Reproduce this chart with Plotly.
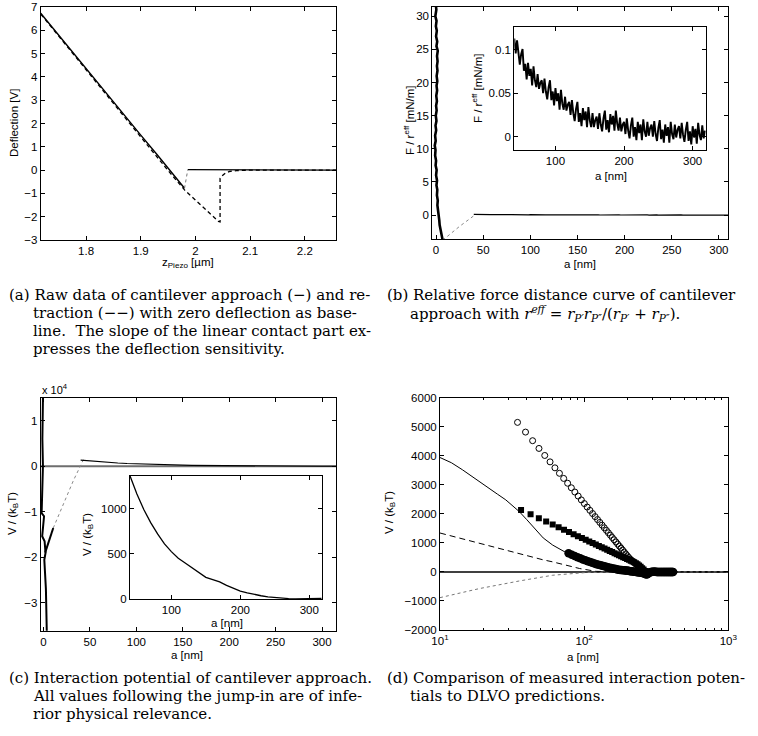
import plotly.graph_objects as go

W, H = 758, 736

# ---------------- (a) raw deflection data ----------------
appr_z = [1.717, 1.75, 1.80, 1.85, 1.90, 1.93, 1.95, 1.965, 1.98]
appr_d = [6.73, 5.78, 4.35, 2.92, 1.50, 0.66, 0.10, -0.32, -0.78]
jump_z = [1.98, 1.983, 1.986]
jump_d = [-0.78, -0.30, 0.02]
flat_z = [1.986, 2.10, 2.257]
flat_d = [0.02, 0.01, 0.0]
retr_z = [1.717, 1.80, 1.90, 1.95, 1.98, 2.00, 2.015, 2.03, 2.042, 2.045, 2.045, 2.05, 2.055,
          2.062, 2.075, 2.10, 2.257]
retr_d = [6.70, 4.30, 1.40, -0.02, -0.85, -1.28, -1.62, -1.95, -2.20, -2.22, -0.35, -0.22,
          -0.12, -0.06, -0.02, 0.0, 0.0]

# ---------------- (b) relative force ----------------
fb_steep_F = [32, 31, 30, 29.3, 28.5, 27.8, 27, 26.2, 25.5, 24.8, 24, 23.2, 22.5, 21.8, 21,
              20.2, 19.5, 18.8, 18, 17.2, 16.5, 15.8, 15, 14.2, 13.5, 12.8, 12, 11.2, 10.5,
              9.8, 9, 8.2, 7.5, 6.8, 6, 5.2, 4.5, 3.8, 3, 2.2, 1.5, 0.8, 0, -0.8, -1.5, -2.2,
              -3, -3.8]
fb_steep_a = [-0.5, 0.3, -0.8, 0.5, -0.2, 0.8, 0.0, 1.2, 0.4, 1.8, 1.0, 1.6, 0.9, 1.5, 0.6,
              1.3, 0.5, 1.1, 0.2, 0.9, 0.0, 0.6, -0.3, 0.4, -0.6, 0.1, -1.0, -0.4, -1.4, -0.6,
              -1.0, 0.0, -0.5, 0.6, 0.0, 1.0, 0.4, 1.3, 0.9, 1.8, 1.4, 2.2, 2.3, 3.4, 3.8, 5.0,
              5.6, 7.0]
fb_jump_a = [7.0, 25.0, 42.0]
fb_jump_F = [-3.8, -1.7, 0.1]
fb_a = [40, 42, 44, 46, 48, 50, 52, 54, 56, 58, 60, 62, 64, 66, 68, 70, 72, 74, 76, 78,
        80, 82, 84, 86, 88, 90, 92, 94, 96, 98, 100, 102, 104, 106, 108, 110, 112, 114, 116, 118,
        120, 122, 124, 126, 128, 130, 132, 134, 136, 138, 140, 142, 144, 146, 148, 150, 152, 154,
        156, 158, 160, 162, 164, 166, 168, 170, 172, 174, 176, 178, 180, 182, 184, 186, 188, 190,
        192, 194, 196, 198, 200, 202, 204, 206, 208, 210, 212, 214, 216, 218, 220, 222, 224, 226,
        228, 230, 232, 234, 236, 238, 240, 242, 244, 246, 248, 250, 252, 254, 256, 258, 260, 262,
        264, 266, 268, 270, 272, 274, 276, 278, 280, 282, 284, 286, 288, 290, 292, 294, 296, 298,
        300, 302, 304, 306, 308, 310, 312, 314, 316, 318]
fb_F = [0.113, 0.096, 0.111, 0.094, 0.083, 0.095, 0.101, 0.076, 0.084, 0.066,
        0.085, 0.070, 0.078, 0.059, 0.081, 0.065, 0.057, 0.072, 0.055, 0.062,
        0.065, 0.050, 0.067, 0.052, 0.043, 0.057, 0.065, 0.042, 0.052, 0.036,
        0.056, 0.041, 0.050, 0.031, 0.054, 0.038, 0.031, 0.046, 0.030, 0.037,
        0.040, 0.025, 0.042, 0.027, 0.018, 0.032, 0.040, 0.017, 0.027, 0.012,
        0.033, 0.019, 0.029, 0.011, 0.034, 0.019, 0.011, 0.027, 0.011, 0.019,
        0.023, 0.009, 0.027, 0.014, 0.006, 0.021, 0.030, 0.008, 0.019, 0.005,
        0.026, 0.014, 0.024, 0.007, 0.030, 0.015, 0.007, 0.022, 0.006, 0.014,
        0.017, 0.003, 0.021, 0.007, -0.002, 0.013, 0.022, 0.000, 0.011, -0.004,
        0.017, 0.004, 0.014, -0.004, 0.020, 0.006, 0.000, 0.017, 0.001, 0.010,
        0.014, 0.000, 0.018, 0.003, -0.005, 0.010, 0.019, -0.003, 0.008, -0.007,
        0.014, 0.001, 0.011, -0.007, 0.017, 0.003, -0.003, 0.014, -0.001, 0.008,
        0.012, -0.002, 0.016, 0.002, -0.006, 0.008, 0.017, -0.005, 0.006, -0.009,
        0.012, -0.001, 0.009, -0.008, 0.016, 0.002, -0.004, 0.013, -0.002, 0.007]

# ---------------- (c) interaction potential ----------------
vc_spike_a = [-0.5, -1.2, -0.6, -1.8, -2.0, 0.6, -1.4, 1.2, 2.2, 0.9, 2.6, 3.6]
vc_spike_V = [16000, 6000, 0, -6000, -10300, -11000, -15400, -16500, -19100, -20600, -27000,
              -37000]
vc_branch_a = [1.8, 10.5]
vc_branch_V = [-19000, -13600]
vc_jump_a = [10.5, 21.5, 32.3, 43.0]
vc_jump_V = [-13600, -8200, -3100, 1450]
vc_base_a = [-3, 315]
vc_base_V = [0, 0]
vc_a = [40, 50, 60, 70, 80, 90, 100, 110, 120, 130, 140, 150, 160, 170, 180, 190, 200, 210,
        220, 230, 240, 250, 260, 270, 280, 290, 300, 310, 318]
vc_V = [1362, 1160, 990, 845, 720, 610, 524, 450, 398, 345, 290, 240, 215, 190, 150, 115, 88,
        68, 50, 36, 24, 15, 9, 5, 2, 1, 2, 4, 6]

# ---------------- (d) comparison with DLVO ----------------
dl_tot_a = [10, 12, 14.3, 17, 20.8, 25, 28.6, 35.5, 40, 46.4, 52, 60.5, 73.1, 92.9, 121, 158,
            218, 300, 1000]
dl_tot_V = [3940, 3760, 3519, 3250, 2941, 2680, 2481, 2076, 1800, 1443, 1170, 924, 692, 405,
            173, 59, 5, 0, 0]
dl_el_a = [10, 18.7, 35.5, 51.6, 60.5, 92.9, 121, 160, 300, 1000]
dl_el_V = [1340, 983, 637, 420, 346, 118, 20, 5, 0, 0]
dl_vdw_a = [10, 18.7, 35.5, 60.5, 103, 150, 300, 1000]
dl_vdw_V = [-886, -575, -311, -114, -21, -5, 0, 0]
zero_a = [10, 1000]
zero_V = [0, 0]
oc_a = [34.5, 39.2, 43.9, 48.6, 53.3, 58.0, 62.7, 67.4, 72.1, 76.8, 81.5, 86.2, 90.9, 95.6,
        100.3, 105.0, 109.7, 114.4, 119.1, 123.8, 128.5, 133.2, 137.9, 142.6, 147.3, 152.0,
        156.7, 161.4, 166.1, 170.8, 175.5, 180.2, 184.9, 189.6, 194.3, 199.0, 203.7, 208.4,
        213.1, 217.8, 222.5, 227.2, 231.9, 236.6, 241.3, 246.0, 250.7, 255.4, 260.1, 264.8,
        269.5, 274.2]
oc_V = [5150, 4816, 4519, 4253, 4011, 3790, 3585, 3396, 3220, 3054, 2898, 2751, 2612, 2480,
        2354, 2234, 2120, 2010, 1904, 1803, 1705, 1611, 1520, 1432, 1347, 1265, 1185, 1108,
        1032, 959, 888, 819, 752, 686, 622, 559, 498, 445, 400, 360, 320, 280, 245, 210, 175,
        135, 95, 55, 15, -20, -50, -60]
sq_a = [36.5, 42.5, 48.5, 54.5, 60.5, 66.5, 72.5, 78.5, 84.5, 90.5, 96.5, 102.5, 108.5, 114.5,
        120.5, 126.5, 132.5, 138.5, 144.5, 150.5, 156.5, 162.5, 168.5, 174.5, 180.5, 186.5,
        192.5, 198.5, 204.5, 210.5, 216.5, 222.5, 228.5, 234.5, 240.5, 246.5, 252.5, 258.5,
        264.5, 270.5, 276.5]
sq_V = [2135, 1983, 1851, 1735, 1631, 1537, 1451, 1371, 1298, 1230, 1166, 1106, 1049, 995, 944,
        896, 850, 806, 763, 723, 684, 646, 610, 576, 542, 509, 478, 447, 417, 388, 360, 333,
        300, 265, 225, 180, 130, 80, 30, -10, -30]
fc_a = [78, 82, 86, 90, 94, 98, 102, 106, 110, 114, 118, 122, 126, 130, 134, 138, 142, 146,
        150, 154, 158, 162, 166, 170, 174, 178, 182, 186, 190, 194, 198, 202, 206, 210, 214,
        218, 222, 226, 230, 234, 238, 242, 246, 250, 254, 258, 262, 266, 270, 274, 278, 282,
        286, 290, 294, 298, 302, 306, 310, 314, 318, 322, 326, 330, 334, 338, 342, 346, 350,
        354, 358, 362, 366, 370, 374, 378, 382, 386, 390, 394, 398, 402, 406, 410, 414]
fc_V = [640, 590, 545, 505, 470, 430, 400, 370, 340, 315, 290, 268, 248, 228, 210, 192, 176,
        160, 146, 133, 120, 108, 97, 87, 78, 69, 64, 60, 55, 50, 45, 38, 31, 25, 19, 13, 8, 3,
        -2, -8, -12, -17, -22, -28, -36, -46, -58, -72, -85, -80, -55, -30, -12, -4, 0, 2, 3, 3,
        2, 2, 1, 1, 0, 0, 0, 0, 0, 0, 0, 0, 0, 0, 0, 0, 0, 0, 0, 0, 0, 0, 0, 0, 0, 0, 0]

# ---------------- figure ----------------
fig = go.Figure()


def add(x, y, ax, **kw):
    fig.add_trace(go.Scatter(x=x, y=y, xaxis='x' + ax, yaxis='y' + ax, showlegend=False,
                             hoverinfo='skip', **kw))


BLK = 'black'
# (a)
add(retr_z, retr_d, '', mode='lines', line=dict(color=BLK, width=1.3, dash='4px,3px'))
add(appr_z, appr_d, '', mode='lines', line=dict(color=BLK, width=1.4))
add(jump_z, jump_d, '', mode='lines', line=dict(color='#777', width=1, dash='dot'))
add(flat_z, flat_d, '', mode='lines', line=dict(color=BLK, width=1.3))
# (b)
add(fb_steep_a, fb_steep_F, '2', mode='lines', line=dict(color=BLK, width=2.6))
add(fb_jump_a, fb_jump_F, '2', mode='lines', line=dict(color='#888', width=1, dash='dot'))
add(fb_a, fb_F, '2', mode='lines', line=dict(color=BLK, width=1.2))
add(fb_a, fb_F, '3', mode='lines', line=dict(color=BLK, width=1.9))
# (c)
add(vc_base_a, vc_base_V, '4', mode='lines', line=dict(color='#6e6e6e', width=2))
add(vc_spike_a, vc_spike_V, '4', mode='lines', line=dict(color=BLK, width=2))
add(vc_branch_a, vc_branch_V, '4', mode='lines', line=dict(color=BLK, width=2))
add(vc_jump_a, vc_jump_V, '4', mode='lines', line=dict(color='#888', width=1, dash='dot'))
add(vc_a, vc_V, '4', mode='lines', line=dict(color=BLK, width=1.2))
add(vc_a, vc_V, '5', mode='lines', line=dict(color=BLK, width=1.3))
# (d)
add(zero_a, zero_V, '6', mode='lines', line=dict(color=BLK, width=1.5))
add(dl_tot_a, dl_tot_V, '6', mode='lines', line=dict(color=BLK, width=1))
add(dl_el_a, dl_el_V, '6', mode='lines', line=dict(color=BLK, width=1, dash='6px,4px'))
add(dl_vdw_a, dl_vdw_V, '6', mode='lines', line=dict(color='#777', width=1, dash='dot'))
add(fc_a, fc_V, '6', mode='markers', marker=dict(symbol='circle', size=8.5, color=BLK))
add(sq_a, sq_V, '6', mode='markers', marker=dict(symbol='square', size=6, color=BLK))
add(oc_a, oc_V, '6', mode='markers',
    marker=dict(symbol='circle-open', size=6, color=BLK, line=dict(width=1)))

FONT = 'Liberation Sans, Arial, sans-serif'
TF = dict(family=FONT, size=11.5, color='black')


def dx(a, b):
    return [a / W, b / W]


def dy(top, bottom):
    return [1 - bottom / H, 1 - top / H]


def axis(domain, anchor, **kw):
    d = dict(domain=domain, anchor=anchor, showline=True, linecolor=BLK, linewidth=1,
             mirror='ticks', ticks='inside', ticklen=4, tickcolor=BLK, tickwidth=1,
             showgrid=False, zeroline=False, tickfont=TF, automargin=False)
    d.update(kw)
    return d


layout = dict(width=W, height=H, margin=dict(l=0, r=0, t=0, b=0),
              paper_bgcolor='white', plot_bgcolor='white', font=dict(family=FONT))
# (a)
layout['xaxis'] = axis(dx(40.7, 336), 'y', range=[1.717, 2.257],
                       tickvals=[1.8, 1.9, 2.0, 2.1, 2.2], ticktext=['1.8', '1.9', '2', '2.1', '2.2'])
layout['yaxis'] = axis(dy(7, 240), 'x', range=[-3, 7], dtick=1, tick0=0)
# (b)
layout['xaxis2'] = axis(dx(432.3, 728.3), 'y2', range=[-4, 310], dtick=50, tick0=0)
layout['yaxis2'] = axis(dy(7, 239.3), 'x2', range=[-3.66, 31.4], dtick=5, tick0=0)
layout['xaxis3'] = axis(dx(514.3, 705.7), 'y3', range=[40, 319], tickvals=[100, 200, 300])
layout['yaxis3'] = axis(dy(27.3, 150), 'x3', range=[-0.0154, 0.126], tickvals=[0, 0.05, 0.1],
                        ticktext=['0', '0.05', '0.1'])
# (c)
layout['xaxis4'] = axis(dx(40.7, 336), 'y4', range=[-3, 315], dtick=50, tick0=0)
layout['yaxis4'] = axis(dy(397.7, 630.7), 'x4', range=[-36200, 15100],
                        tickvals=[-30000, -20000, -10000, 0, 10000],
                        ticktext=['\u22123', '\u22122', '\u22121', '0', '1'])
layout['xaxis5'] = axis(dx(130, 321.7), 'y5', range=[40, 318], tickvals=[100, 200, 300])
layout['yaxis5'] = axis(dy(476, 599), 'x5', range=[0, 1360], tickvals=[0, 500, 1000])
# (d)
layout['xaxis6'] = axis(dx(440, 728.3), 'y6', type='log', range=[1, 3],
                        tickvals=[10, 100, 1000],
                        ticktext=['10<sup>1</sup>', '10<sup>2</sup>', '10<sup>3</sup>'],
                        minor=dict(ticks='inside', ticklen=2, tickcolor=BLK,
                                   tickvals=[20, 30, 40, 50, 60, 70, 80, 90,
                                             200, 300, 400, 500, 600, 700, 800, 900]))
layout['yaxis6'] = axis(dy(397.7, 630), 'x6', range=[-2000, 6000], dtick=1000, tick0=0)

fig.update_layout(**layout)

ann = []


def label(text, x, y, angle=0, size=11.5, xanchor='center', family=FONT):
    ann.append(dict(text=text, x=x / W, y=1 - y / H, xref='paper', yref='paper',
                    showarrow=False, textangle=angle, xanchor=xanchor, yanchor='middle',
                    font=dict(family=family, size=size, color='black')))


label('z<sub>Piezo</sub> [\u00b5m]', 188, 263)
label('Deflection [V]', 14, 123, angle=-90)
label('a [nm]', 580, 264)
label('F / r<sup>eff</sup> [mN/m]', 409, 120, angle=-90)
label('a [nm]', 611, 176)
label('F / r<sup>eff</sup> [mN/m]', 477, 88, angle=-90)
label('a [nm]', 187, 655)
label('V / (k<sub>B</sub>T)', 13, 514, angle=-90)
label('a [nm]', 227, 623)
label('V / (k<sub>B</sub>T)', 88, 535, angle=-90)
label('a [nm]', 583, 657)
label('V / (k<sub>B</sub>T)', 390, 513, angle=-90)
label('x 10<sup>4</sup>', 40, 389, xanchor='left', size=11)

SERIF = 'DejaVu Serif, Liberation Serif, serif'
CS = 15
cap = [
    ('(a) Raw data of cantilever approach (\u2212) and re-', 7, 295),
    ('traction (\u2212\u2212) with zero deflection as base-', 31, 313),
    ('line.  The slope of the linear contact part ex-', 31, 331),
    ('presses the deflection sensitivity.', 31, 349),
    ('(b) Relative force distance curve of cantilever', 385, 295),
    ('approach with <i>r<sup>eff</sup></i> = <i>r</i><sub><i>P\u2032</i></sub><i>r</i><sub><i>P\u2033</i></sub>'
     '/(<i>r</i><sub><i>P\u2032</i></sub> + <i>r</i><sub><i>P\u2033</i></sub>).', 408, 313),
    ('(c) Interaction potential of cantilever approach.', 7, 678),
    ('All values following the jump-in are of infe-', 31, 696),
    ('rior physical relevance.', 31, 714),
    ('(d) Comparison of measured interaction poten-', 385, 678),
    ('tials to DLVO predictions.', 408, 696),
]
for t, x, y in cap:
    label(t, x, y, size=CS, xanchor='left', family=SERIF)

fig.update_layout(annotations=ann)
fig.write_html('out.html')
